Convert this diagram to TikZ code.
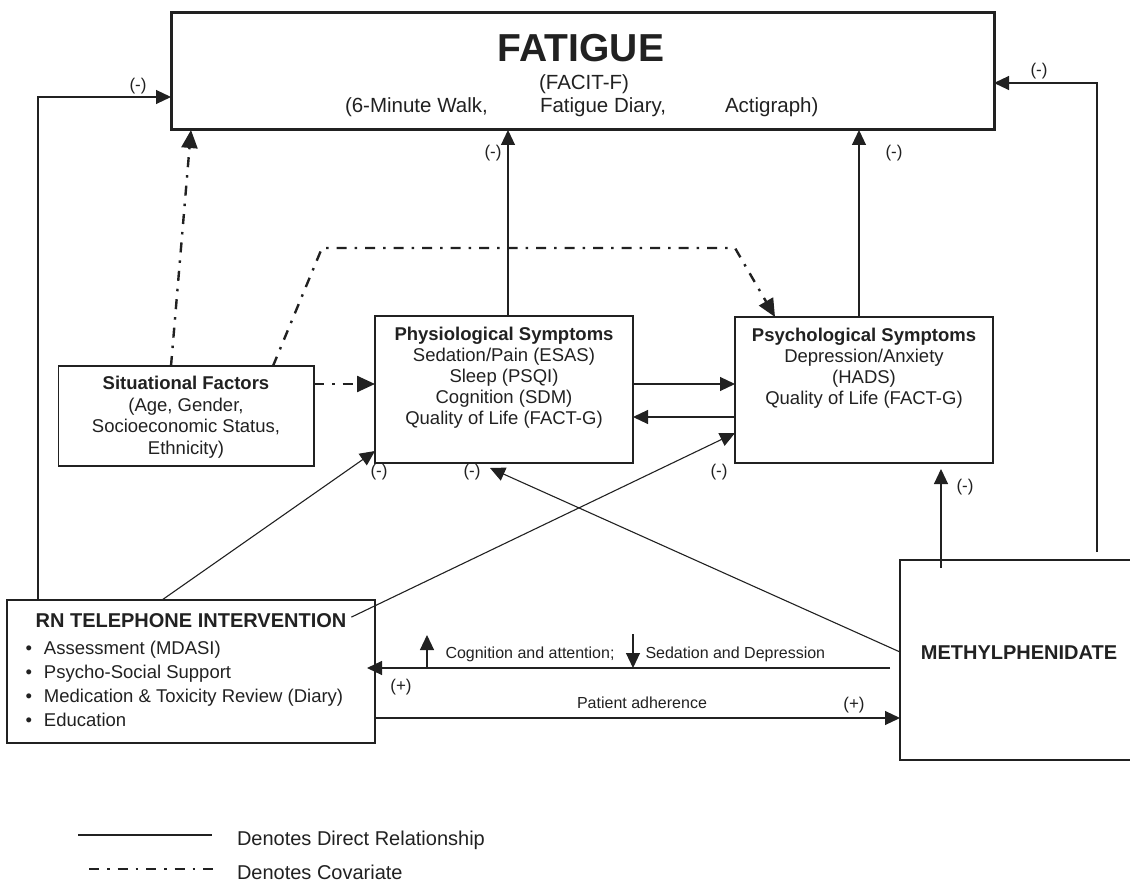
\documentclass[tikz,border=0pt]{standalone}
\usepackage{fontspec}
\setmainfont{Liberation Sans}
\usetikzlibrary{arrows.meta,calc}
\definecolor{ink}{rgb}{0.13,0.13,0.13}
\newcommand{\fsz}[2]{\fontsize{#1}{#2}\selectfont}
\newcommand{\blt}{\llap{\textbullet\hspace{12pt}}}
\begin{document}
\begin{tikzpicture}[x=1pt,y=-1pt,
  every node/.style={inner sep=0pt, outer sep=0pt, text=ink},
  box/.style={draw=ink, line width=1.2pt, rectangle},
  arr/.style={draw=ink, line width=1.1pt, -{Triangle[length=15pt,width=14pt]}},
  covline/.style={draw=ink, line width=2.4pt, dash pattern=on 10pt off 8pt on 2.5pt off 8pt},
  cov/.style={covline, -{Triangle[length=18pt,width=16pt]}},
  lbl/.style={font=\fsz{17}{20}},
  small/.style={font=\fsz{16}{19}},
  body/.style={font=\fsz{18.5}{21}, align=center}
]
\useasboundingbox (0,0) rectangle (1130,882);

% boxes
\node[draw=ink, line width=3pt, minimum width=823pt, minimum height=117pt] (fat) at (582.5,71.5) {};
\node[box, minimum width=258pt, minimum height=147pt] (phys) at (504,389.5) {};
\node[box, minimum width=258pt, minimum height=146pt] (psy) at (864,390) {};
\node[box, minimum width=255.5pt, minimum height=100pt] (sit) at (186.25,416) {};
\node[box, minimum width=368pt, minimum height=143pt] (rn) at (191,671.5) {};
\node[box, minimum width=234pt, minimum height=200pt] (meth) at (1017,660) {};

% texts
\node[anchor=base, font=\bfseries\fsz{39}{39}] (fatT) at (581,62) {FATIGUE};
\node[anchor=base, font=\fsz{20.5}{24}] (facit) at (584,90) {(FACIT-F)};
\node[anchor=base west, font=\fsz{20.5}{24}] (walk) at (345,113) {(6-Minute Walk,};
\node[anchor=base west, font=\fsz{20.5}{24}] (diary) at (540,113) {Fatigue Diary,};
\node[anchor=base west, font=\fsz{20.5}{24}] (acti) at (725,113) {Actigraph)};

\node[body, anchor=north] (physT) at (504,327.5) {\textbf{Physiological Symptoms}\\Sedation/Pain (ESAS)\\Sleep (PSQI)\\Cognition (SDM)\\Quality of Life (FACT-G)};
\node[body, anchor=north] (psyT) at (864,328.5) {\textbf{Psychological Symptoms}\\Depression/Anxiety\\(HADS)\\Quality of Life (FACT-G)};
\node[font=\fsz{18.5}{21.5}, align=center, anchor=north] (sitT) at (186,376.5) {\textbf{Situational Factors}\\(Age, Gender,\\Socioeconomic Status,\\Ethnicity)};
\node[anchor=base, font=\bfseries\fsz{20}{24}] (rnT) at (191,627) {RN TELEPHONE INTERVENTION};
\node[anchor=north west, align=left, font=\fsz{18.5}{23.7}] (rnL) at (44,641.5) {\blt Assessment (MDASI)\\\blt Psycho-Social Support\\\blt Medication \& Toxicity Review (Diary)\\\blt Education};
\node[anchor=base, font=\bfseries\fsz{20}{24}] (methT) at (1019,659) {METHYLPHENIDATE};

% connectors
\draw[arr] (rn.north -| 38,0) |- (fat.west |- 0,97);
\draw[arr, shorten <=8pt] (meth.north -| 1097,0) |- (fat.east |- 0,83);
\draw[arr] (phys.north -| 508,0) -- (fat.south -| 508,0);
\draw[arr] (psy.north -| 859,0) -- (fat.south -| 859,0);
\draw[cov] (sit.north -| 171,0) -- (fat.south -| 191,0);
\coordinate (bendA) at (322,248);
\coordinate (bendB) at (735,248);
\draw[cov] (sit.north -| 273,0) -- (bendA) -- (bendB) -- (psy.north -| 775,0);
\draw[cov] (sit.east |- 0,384) -- (phys.west |- 0,384);
\draw[arr] (phys.east |- 0,384) -- (psy.west |- 0,384);
\draw[arr] (psy.west |- 0,417) -- (phys.east |- 0,417);
\draw[arr] (rn.north -| 162,0) -- (phys.west |- 0,451);
\draw[arr] ([xshift=5pt,yshift=3pt]rnT.east) -- (psy.west |- 0,433);
\coordinate (physIn) at (490,468);
\draw[arr] (meth.west |- 0,652) -- (physIn);
\coordinate (methA) at (941,568);
\coordinate (psyIn) at (941,469);
\draw[arr] (methA) -- (psyIn);
\draw[arr, shorten <=10pt, shorten >=-8pt] (meth.west |- 0,668) -- (rn.east |- 0,668);
\draw[arr] (rn.east |- 0,718) -- (meth.west |- 0,718);
\coordinate (upA) at (427,668);
\coordinate (upB) at (427,635);
\draw[arr] (upA) -- (upB);
\coordinate (dnA) at (633,634);
\coordinate (dnB) at (633,668);
\draw[arr] (dnA) -- (dnB);

% labels
\node[lbl] (l1) at (138,86) {(-)};
\node[lbl] (l2) at (493,153) {(-)};
\node[lbl] (l3) at (894,153) {(-)};
\node[lbl] (l4) at (1039,71) {(-)};
\node[lbl] (l5) at (379,472) {(-)};
\node[lbl] (l6) at (472,472) {(-)};
\node[lbl] (l7) at (719,472) {(-)};
\node[lbl] (l8) at (965,487) {(-)};
\node[lbl] (p1) at (401,687) {(+)};
\node[lbl] (p2) at (854,705) {(+)};
\node[small, anchor=base west] (cogT) at (445.5,658) {Cognition and attention;};
\node[small, anchor=base west] (sedT) at (645.5,658) {Sedation and Depression};
\node[small, anchor=base] (adhT) at (642,708) {Patient adherence};

% legend
\coordinate (lgA) at (78,835);
\coordinate (lgB) at (212,835);
\draw[draw=ink, line width=1.1pt] (lgA) -- (lgB);
\coordinate (lgC) at (89,869);
\coordinate (lgD) at (220,869);
\draw[covline] (lgC) -- (lgD);
\node[anchor=base west, font=\fsz{20}{24}] (lgT1) at (237,845) {Denotes Direct Relationship};
\node[anchor=base west, font=\fsz{20}{24}] (lgT2) at (237,879) {Denotes Covariate};
\end{tikzpicture}
\end{document}
